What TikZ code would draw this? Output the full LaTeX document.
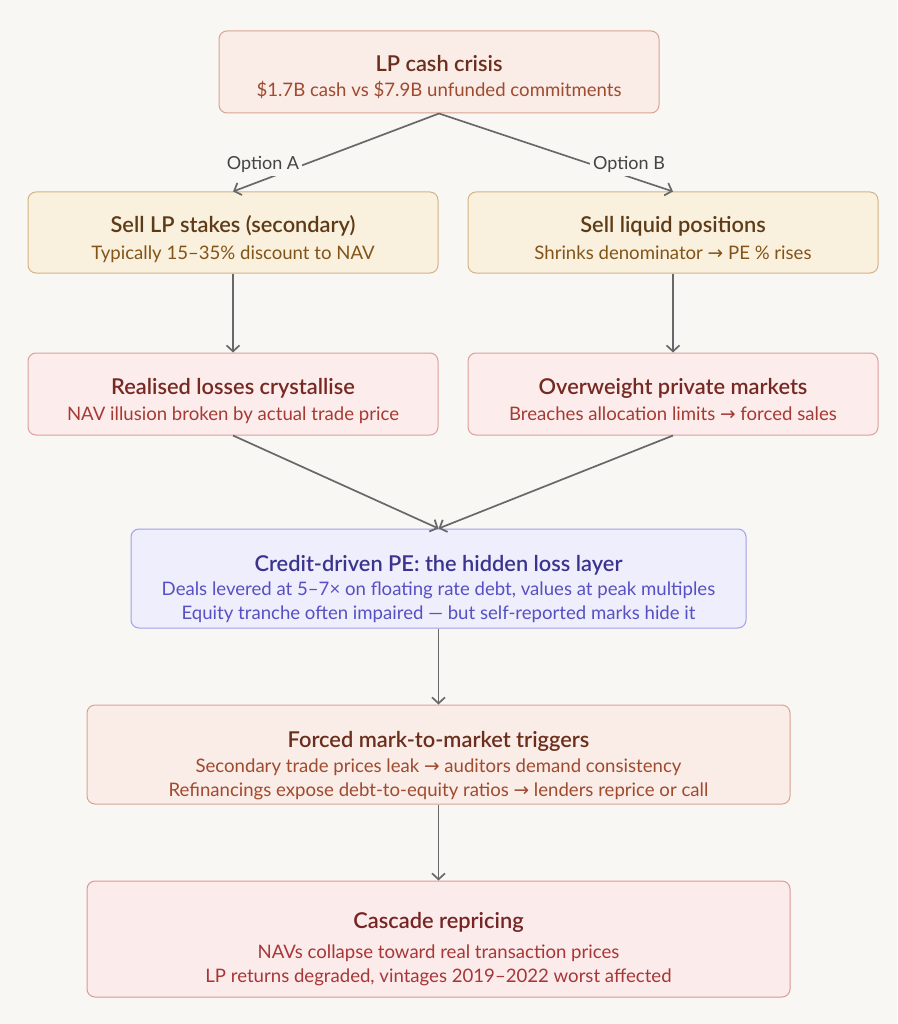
\documentclass[tikz,border=0pt]{standalone}
\usepackage{fontspec}
\setmainfont{Lato}[BoldFont={Lato Semibold}]
\newfontfamily\symfont{DejaVu Sans}
\usetikzlibrary{arrows.meta}
\newcommand\rarr{{\symfont\char"2192}}
\definecolor{bgc}{HTML}{F8F7F4}
\definecolor{linec}{HTML}{686868}
\definecolor{lblc}{HTML}{444444}
\definecolor{salF}{HTML}{FAECE7}\definecolor{salD}{HTML}{D9A394}\definecolor{salT}{HTML}{6B2E1C}\definecolor{salS}{HTML}{A04A2E}
\definecolor{crF}{HTML}{FAF0DE}\definecolor{crD}{HTML}{D4B386}\definecolor{crT}{HTML}{5E3B17}\definecolor{crS}{HTML}{835418}
\definecolor{pkF}{HTML}{FCEDEC}\definecolor{pkD}{HTML}{DDA09C}\definecolor{pkT}{HTML}{762823}\definecolor{pkS}{HTML}{A63A33}
\definecolor{lvF}{HTML}{EFEEFC}\definecolor{lvD}{HTML}{A19FE6}\definecolor{lvT}{HTML}{3A348F}\definecolor{lvS}{HTML}{5650C4}
\definecolor{rdF}{HTML}{FCEBEB}\definecolor{rdD}{HTML}{DC9896}\definecolor{rdT}{HTML}{772424}\definecolor{rdS}{HTML}{A83636}
\begin{document}
\begin{tikzpicture}[x=1pt,y=-1pt,
  box/.style={draw, rounded corners=8pt, line width=1pt, inner sep=0pt},
  ttl/.style={font=\fontsize{21.8}{24}\selectfont\bfseries, inner sep=0pt, anchor=base},
  sub/.style={font=\fontsize{18.6}{21}\selectfont, inner sep=0pt, anchor=base},
  lbl/.style={font=\fontsize{18}{20}\selectfont, text=lblc, fill=bgc, inner sep=3pt, anchor=base},
  arr/.style={draw=linec, line width=1.7pt, -{Straight Barb[length=6pt,width=13pt,line width=1.7pt]}}]
\fill[bgc] (0,0) rectangle (897,1024);
\useasboundingbox (0,0) rectangle (897,1024);
% boxes
\node[box, fill=salF, draw=salD, minimum width=440pt, minimum height=82pt] (top) at (439,72) {};
\node[box, fill=crF, draw=crD, minimum width=410pt, minimum height=81pt] (sellA) at (233,232.5) {};
\node[box, fill=crF, draw=crD, minimum width=410pt, minimum height=81pt] (sellB) at (673,232.5) {};
\node[box, fill=pkF, draw=pkD, minimum width=410pt, minimum height=82pt] (lossA) at (233,394) {};
\node[box, fill=pkF, draw=pkD, minimum width=410pt, minimum height=82pt] (overB) at (673,394) {};
\node[box, fill=lvF, draw=lvD, minimum width=615pt, minimum height=99pt] (credit) at (438.5,578.5) {};
\node[box, fill=salF, draw=salD, minimum width=703pt, minimum height=99pt] (forced) at (438.5,754.5) {};
\node[box, fill=rdF, draw=rdD, minimum width=703pt, minimum height=116pt] (casc) at (438.5,939) {};
% texts
\node[ttl, text=salT] (t1) at (439,72) {LP cash crisis};
\node[sub, text=salS] (s1) at (439,97) {\$1.7B cash vs \$7.9B unfunded commitments};
\node[ttl, text=crT] (t2) at (233,233) {Sell LP stakes (secondary)};
\node[sub, text=crS] (s2) at (233,259) {Typically 15–35\% discount to NAV};
\node[ttl, text=crT] (t3) at (673,233) {Sell liquid positions};
\node[sub, text=crS] (s3) at (673,259) {Shrinks denominator \rarr{} PE \% rises};
\node[ttl, text=pkT] (t4) at (233,394) {Realised losses crystallise};
\node[sub, text=pkS] (s4) at (233,420) {NAV illusion broken by actual trade price};
\node[ttl, text=pkT] (t5) at (673,394) {Overweight private markets};
\node[sub, text=pkS] (s5) at (673,420) {Breaches allocation limits \rarr{} forced sales};
\node[ttl, text=lvT] (t6) at (438.5,571) {Credit-driven PE: the hidden loss layer};
\node[sub, text=lvS] (s6a) at (438.5,595) {Deals levered at 5–7× on floating rate debt, values at peak multiples};
\node[sub, text=lvS] (s6b) at (438.5,619) {Equity tranche often impaired — but self-reported marks hide it};
\node[ttl, text=salT] (t7) at (438.5,747) {Forced mark-to-market triggers};
\node[sub, text=salS] (s7a) at (438.5,772) {Secondary trade prices leak \rarr{} auditors demand consistency};
\node[sub, text=salS] (s7b) at (438.5,796) {Refinancings expose debt-to-equity ratios \rarr{} lenders reprice or call};
\node[ttl, text=rdT] (t8) at (438.5,928) {Cascade repricing};
\node[sub, text=rdS] (s8a) at (438.5,958) {NAVs collapse toward real transaction prices};
\node[sub, text=rdS] (s8b) at (438.5,982) {LP returns degraded, vintages 2019–2022 worst affected};
% connectors
\draw[arr] (top.south) -- (sellA.north);
\draw[arr] (top.south) -- (sellB.north);
\node[lbl] (optA) at (263,170) {Option A};
\node[lbl] (optB) at (629,170) {Option B};
\draw[arr] (sellA.south) -- (lossA.north);
\draw[arr] (sellB.south) -- (overB.north);
\draw[arr] (lossA.south) -- (credit.north);
\draw[arr] (overB.south) -- (credit.north);
\draw[arr] (credit.south) -- (forced.north);
\draw[arr] (forced.south) -- (casc.north);
\end{tikzpicture}
\end{document}
